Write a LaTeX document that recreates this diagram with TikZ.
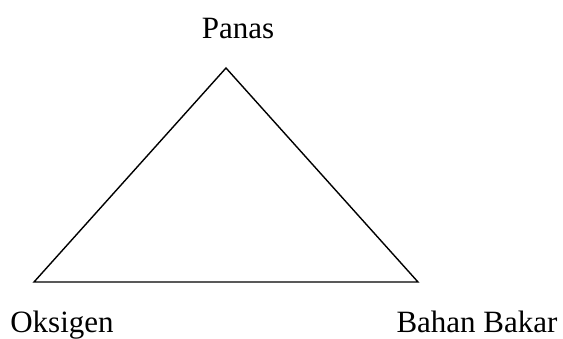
\documentclass[tikz,border=0pt]{standalone}
\usepackage{fontspec}
\setmainfont{Liberation Serif}
\begin{document}
\begin{tikzpicture}[x=1pt,y=-1pt,
  lbl/.style={anchor=base,inner sep=0pt,font=\fontsize{31}{36}\selectfont},
  edge/.style={draw=black,line width=1.4pt,line join=miter}]
\useasboundingbox (0,0) rectangle (563,338);
\coordinate (top) at (226,68);
\coordinate (left) at (34,282);
\coordinate (right) at (418,282);
\draw[edge] (top) -- (right) -- (left) -- cycle;
\node[lbl] (panas) at (238,38) {Panas};
\node[lbl] (oks) at (62,332) {Oksigen};
\node[lbl] (bb) at (477,332) {Bahan Bakar};
\end{tikzpicture}
\end{document}
